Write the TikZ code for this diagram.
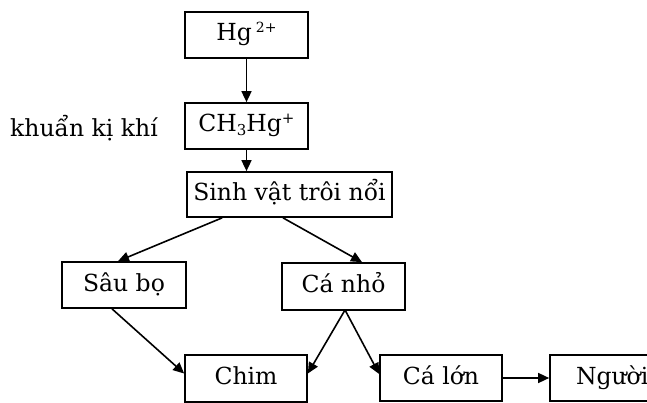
\documentclass[tikz,border=0pt]{standalone}
\usepackage{fontspec}
\setmainfont{DejaVu Serif}
\usetikzlibrary{arrows.meta}
\begin{document}
\begin{tikzpicture}[x=1pt,y=-1pt,
  txt/.style={font=\fontsize{23.5}{28}\selectfont},
  box/.style={txt,draw,line width=1.7pt,minimum width=123pt,minimum height=46pt,inner sep=0pt,text height=17pt,text depth=5pt},
  link/.style={line width=1.6pt,-{Triangle[length=11pt,width=10pt]}}]
  \useasboundingbox (0,0) rectangle (647,403);
  % nodes of the mercury food chain
  \node[box] (hg)   at (246.5,35)  {Hg\,\raisebox{8pt}{\fontsize{14}{16}\selectfont 2+}};
  \node[box] (ch3)  at (246.5,126) {CH\raisebox{-4pt}{\fontsize{15}{17}\selectfont 3}Hg\raisebox{8pt}{\fontsize{15}{17}\selectfont +}};
  \node[txt] (bact) at (84,128) {khuẩn kị khí};
  \node[box,minimum width=205pt,minimum height=45pt] (sinh) at (289.5,194.5) {Sinh vật trôi nổi};
  \node[box,minimum width=124pt] (sau)  at (124,285)   {Sâu bọ};
  \node[box,minimum height=47pt] (canho) at (343.5,286.5) {Cá nhỏ};
  \node[box,minimum width=122pt,minimum height=47pt] (chim) at (246,378.5) {Chim};
  \node[box,minimum width=122pt] (calon) at (441,378) {Cá lớn};
  \node[box,minimum width=122pt,text width=122pt,align=left] (nguoi) at (611,378) {\hspace*{26pt}Người};
  % links
  \draw[link] (hg.south) -- (ch3.north);
  \draw[link] (ch3.south) -- (ch3.south |- sinh.north);
  \draw[link] ([xshift=36pt]sinh.south west) -- ([xshift=-6pt]sau.north);
  \draw[link] ([xshift=-6.5pt]sinh.south) -- ([xshift=18.5pt]canho.north);
  \draw[link] ([xshift=-12pt]sau.south) -- ([yshift=5pt]chim.west);
  \draw[link] ([xshift=1pt]canho.south) -- ([yshift=5pt]chim.east);
  \draw[link] ([xshift=2pt]canho.south) -- ([yshift=4pt]calon.west);
  \draw[link] (calon.east) -- (nguoi.west);
\end{tikzpicture}
\end{document}
